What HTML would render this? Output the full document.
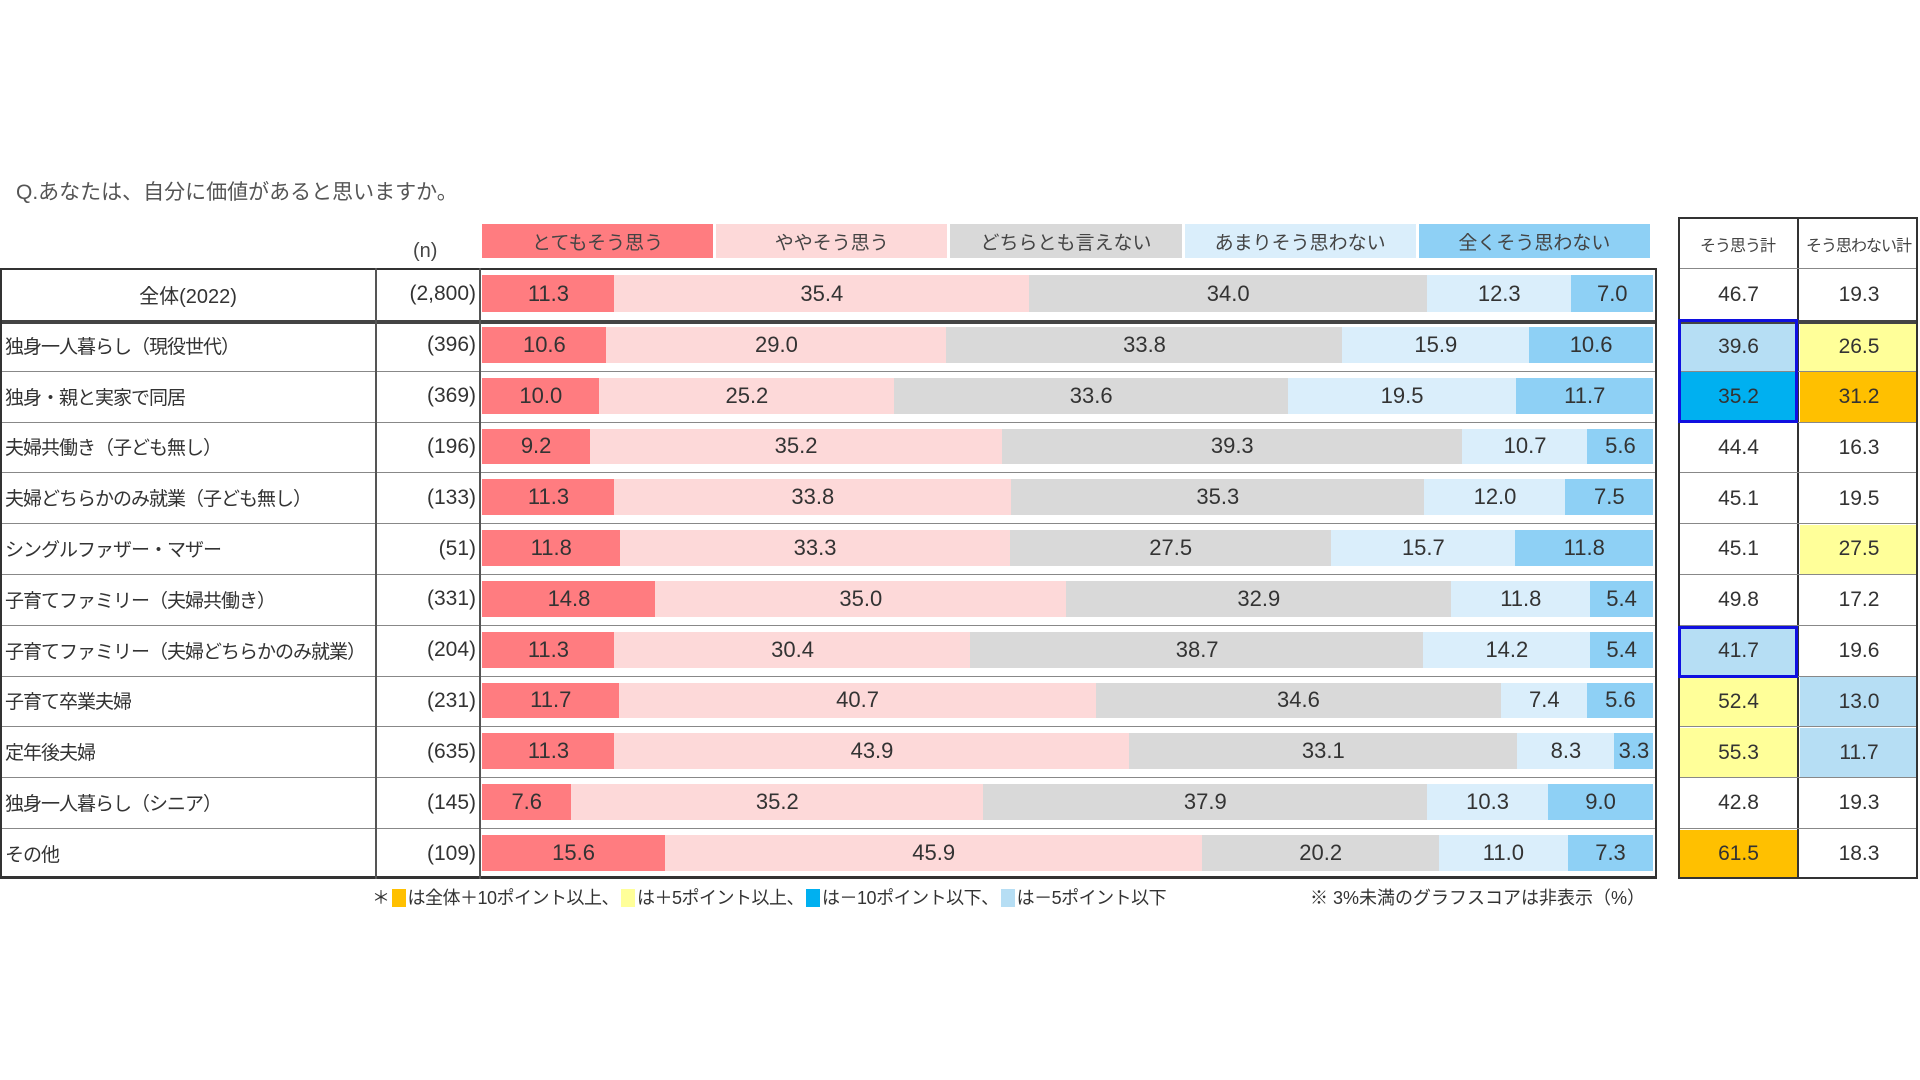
<!DOCTYPE html>
<html><head><meta charset="utf-8"><style>
body{margin:0;width:1920px;height:1080px;background:#fff;position:relative;overflow:hidden;font-family:"Liberation Sans","Noto Sans CJK JP",sans-serif;color:#333}
div{position:absolute;box-sizing:border-box}
.t{white-space:nowrap}
.seg{display:flex;align-items:center;justify-content:center;font-size:22px;color:#333}
.h{display:flex;align-items:center;justify-content:center;font-size:19px;color:#444}
.sw{display:inline-block;width:14px;height:18px;vertical-align:-3px;margin:0 2px}
</style></head><body>
<div class="t" style="left:16px;top:176px;font-size:21px;color:#555">Q.あなたは、自分に価値があると思いますか。</div>
<div class="t" style="left:413px;top:240px;font-size:20px;color:#444">(n)</div>
<div id="root"></div>
<script>
const root=document.getElementById('root');
function d(s,txt,cls){const e=document.createElement('div');e.style.cssText=s;if(cls)e.className=cls;if(txt!==undefined)e.textContent=txt;root.appendChild(e);return e;}
const cols=['#ff7c80','#fdd9d9','#d9d9d9','#daeefb','#8ed0f5'];
const heads=['とてもそう思う','ややそう思う','どちらとも言えない','あまりそう思わない','全くそう思わない'];
const X0=482,W=1171;
heads.forEach((h,i)=>d(`left:${X0+i*W/5}px;top:224px;width:${W/5-3}px;height:34px;background:${cols[i]}`,h,'h'));
const rows=[
['全体(2022)','(2,800)',[11.3,35.4,34.0,12.3,7.0],'46.7','19.3'],
['独身一人暮らし（現役世代）','(396)',[10.6,29.0,33.8,15.9,10.6],'39.6','26.5'],
['独身・親と実家で同居','(369)',[10.0,25.2,33.6,19.5,11.7],'35.2','31.2'],
['夫婦共働き（子ども無し）','(196)',[9.2,35.2,39.3,10.7,5.6],'44.4','16.3'],
['夫婦どちらかのみ就業（子ども無し）','(133)',[11.3,33.8,35.3,12.0,7.5],'45.1','19.5'],
['シングルファザー・マザー','(51)',[11.8,33.3,27.5,15.7,11.8],'45.1','27.5'],
['子育てファミリー（夫婦共働き）','(331)',[14.8,35.0,32.9,11.8,5.4],'49.8','17.2'],
['子育てファミリー（夫婦どちらかのみ就業）','(204)',[11.3,30.4,38.7,14.2,5.4],'41.7','19.6'],
['子育て卒業夫婦','(231)',[11.7,40.7,34.6,7.4,5.6],'52.4','13.0'],
['定年後夫婦','(635)',[11.3,43.9,33.1,8.3,3.3],'55.3','11.7'],
['独身一人暮らし（シニア）','(145)',[7.6,35.2,37.9,10.3,9.0],'42.8','19.3'],
['その他','(109)',[15.6,45.9,20.2,11.0,7.3],'61.5','18.3']];
const hl={'1,0':'#b6def4','1,1':'#ffff99','2,0':'#00b0f0','2,1':'#ffc000','5,1':'#ffff99','7,0':'#b6def4','8,0':'#ffff99','8,1':'#b6def4','9,0':'#ffff99','9,1':'#b6def4','11,0':'#ffc000'};
const tops=[268];for(let i=0;i<11;i++)tops.push(320+i*50.8);tops.push(879);
d('left:1678px;top:217px;width:240px;height:51px;border:2px solid #333;border-bottom:none');
d('left:1797px;top:217px;width:2px;height:662px;background:#333');
d('left:1678px;top:219px;width:119px;height:49px;font-size:16px;letter-spacing:-1px','そう思う計','h');
d('left:1799px;top:219px;width:119px;height:49px;font-size:16px;letter-spacing:-1px','そう思わない計','h');
rows.forEach((r,i)=>{
 const y=tops[i],h=tops[i+1]-y;
 d(`left:0;top:${y}px;width:1657px;height:${h}px;border-top:${i==1?4:1.5}px solid ${i==1?'#444':'#888'}`);
 d(`left:1678px;top:${y}px;width:240px;height:${h}px;border-top:${i==1?4:1.5}px solid ${i==1?'#444':'#888'}`);
 d(`left:${i==0?0:5}px;top:${y}px;width:${i==0?376:370}px;height:${h}px;display:flex;align-items:center;justify-content:${i==0?'center':'flex-start'};font-size:${i==0?20:19}px;letter-spacing:${i==0?0:-1}px`,r[0],'t');
 d(`left:376px;top:${y}px;width:100px;height:${h}px;display:flex;align-items:center;justify-content:flex-end;font-size:21px`,r[1],'t');
 let x=X0;const tot=r[2].reduce((a,b)=>a+b,0);
 r[2].forEach((v,k)=>{const w=v/tot*W;d(`left:${x}px;top:${y+7}px;width:${w+0.5}px;height:${h-15}px;background:${cols[k]}`,v.toFixed(1),'seg');x+=w;});
 [r[3],r[4]].forEach((v,k)=>{const bg=hl[i+','+k]||'#fff';d(`left:${1680+k*120}px;top:${y+(i==1?4:1.5)}px;width:${k?118:117}px;height:${h-(i==1?4:1.5)}px;background:${bg};font-size:21px`,v,'seg');});
});
d('left:0;top:268px;width:1657px;height:611px;border:2px solid #333;border-bottom-width:3px');
d('left:375px;top:268px;width:1.5px;height:611px;background:#555');
d('left:479px;top:268px;width:1.5px;height:611px;background:#555');
d('left:1678px;top:268px;width:240px;height:611px;border:2px solid #333;border-top:none');
d('left:1678px;top:319px;width:120px;height:104px;border:3px solid #1010e0');
d('left:1678px;top:626px;width:120px;height:52px;border:3px solid #1010e0');
</script>
<div class="t" style="left:372px;top:884px;font-size:18px;color:#333;letter-spacing:-0.5px">＊<span class="sw" style="background:#ffc000"></span>は全体＋10ポイント以上、<span class="sw" style="background:#ffff99"></span>は＋5ポイント以上、<span class="sw" style="background:#00b0f0"></span>は－10ポイント以下、<span class="sw" style="background:#b6def4"></span>は－5ポイント以下</div>
<div class="t" style="left:1310px;top:884px;font-size:18px;color:#333">※ 3%未満のグラフスコアは非表示（%）</div>
</body></html>
